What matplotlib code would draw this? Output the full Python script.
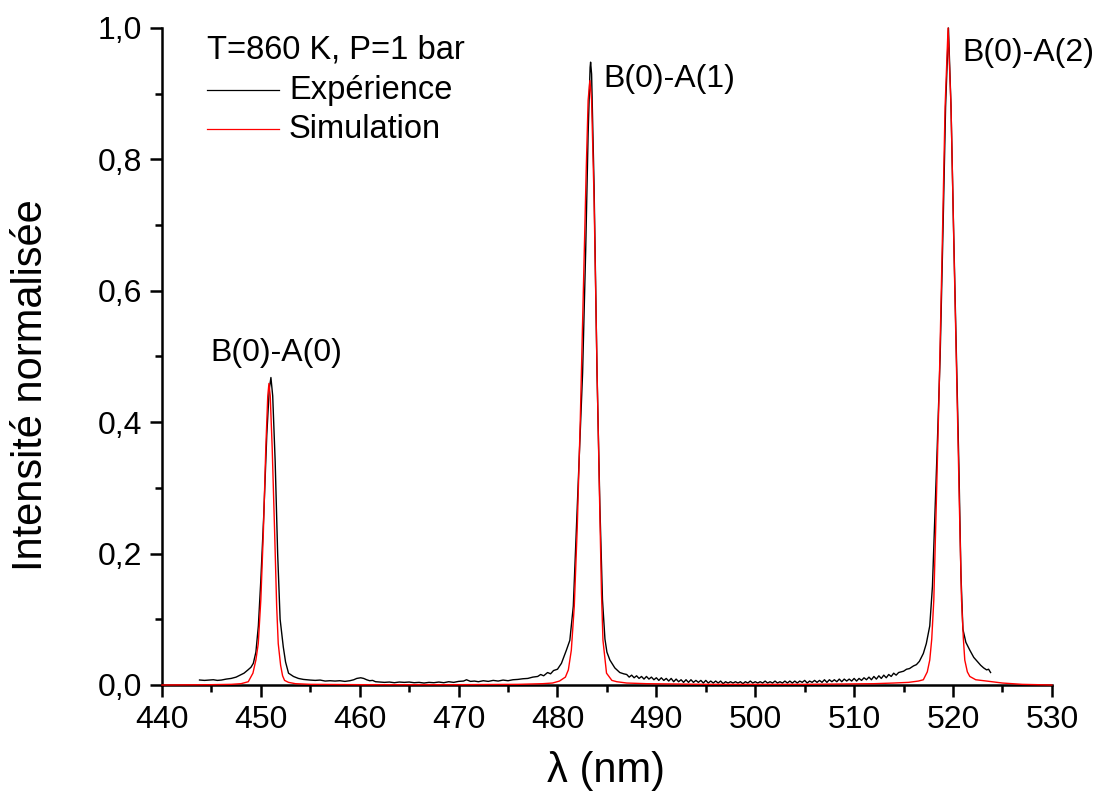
import matplotlib
matplotlib.use("Agg")
import matplotlib.pyplot as plt
from matplotlib.ticker import MultipleLocator

plt.rcParams['font.family'] = ['Liberation Sans', 'DejaVu Sans']

# ---------------- data ----------------
exp_wl = [
    443.8, 444.3, 444.8, 445.2, 445.6, 446.0, 446.5, 447.0, 447.5, 447.9, 448.3, 448.7,
    449.0, 449.24, 449.5, 449.75, 450.0, 450.3, 450.6, 450.85, 451.02, 451.2, 451.45,
    451.7, 451.95, 452.27, 452.5, 452.8, 453.3, 453.8, 454.3, 455.0, 455.5, 456.0,
    456.5, 457.0, 457.5, 458.0, 458.5, 459.0, 459.4, 459.7, 460.1, 460.4, 460.7,
    461.0, 461.3, 461.6, 462.0,
    462.5, 463.0, 463.5, 464.0, 464.5, 465.0, 465.5, 466.0, 466.5, 467.0, 467.5,
    468.0, 468.5, 469.0, 469.5, 470.0, 470.5, 470.8, 471.2, 471.6, 472.0, 472.5,
    473.0, 473.5, 474.0, 474.5, 475.0, 475.5, 476.0, 476.5, 477.0, 477.5, 478.0,
    478.3, 478.6, 479.0, 479.3, 479.6, 480.0, 480.4,
    480.9, 481.25, 481.6, 482.0, 482.3, 482.54, 482.85, 483.1, 483.3, 483.35, 483.45,
    483.7, 484.0, 484.29, 484.55, 484.8, 485.0, 485.3, 485.8, 486.3, 486.7,
    487.0, 487.25, 487.5, 487.75, 488.0, 488.25, 488.5, 488.75,
    489.0, 489.25, 489.5, 489.75, 490.0, 490.25, 490.5, 490.75,
    491.0, 491.25, 491.5, 491.75, 492.0, 492.25, 492.5, 492.75,
    493.0, 493.25, 493.5, 493.75, 494.0, 494.25, 494.5, 494.75,
    495.0, 495.25, 495.5, 495.75, 496.0, 496.25, 496.5, 496.75,
    497.0, 497.25, 497.5, 497.75, 498.0, 498.25, 498.5, 498.75,
    499.0, 499.25, 499.5, 499.75, 500.0, 500.25, 500.5, 500.75,
    501.0, 501.25, 501.5, 501.75, 502.0, 502.25, 502.5, 502.75,
    503.0, 503.25, 503.5, 503.75, 504.0, 504.25, 504.5, 504.75,
    505.0, 505.25, 505.5, 505.75, 506.0, 506.25, 506.5, 506.75,
    507.0, 507.25, 507.5, 507.75, 508.0, 508.25, 508.5, 508.75,
    509.0, 509.25, 509.5, 509.75, 510.0, 510.25, 510.5, 510.75,
    511.0, 511.25, 511.5, 511.75, 512.0, 512.25, 512.5, 512.75,
    513.0, 513.25, 513.5, 513.75, 514.0, 514.25, 514.5,
    515.0, 515.3, 515.6, 516.0, 516.3, 516.6, 517.0, 517.3, 517.65, 517.92, 518.15,
    518.4, 518.7, 519.0, 519.25, 519.54, 519.8, 520.05, 520.35, 520.6, 520.8, 521.0,
    521.3, 521.7, 522.1, 522.5, 522.8, 523.1, 523.4, 523.6, 523.8,
]
exp_int = [
    0.0076, 0.007, 0.0075, 0.008, 0.007, 0.0075, 0.009, 0.010, 0.012, 0.015, 0.018, 0.023,
    0.027, 0.033, 0.05, 0.09, 0.16, 0.26, 0.38, 0.45, 0.468, 0.44, 0.34,
    0.20, 0.10, 0.058, 0.035, 0.018, 0.013, 0.010, 0.0085, 0.0075, 0.007, 0.0075,
    0.006, 0.0065, 0.006, 0.0065, 0.0055, 0.0065, 0.008, 0.010, 0.011, 0.010, 0.008,
    0.0065, 0.007, 0.005, 0.0045,
    0.004, 0.0045, 0.0035, 0.0045, 0.004, 0.0045, 0.0035, 0.004, 0.003, 0.004, 0.0035,
    0.0045, 0.0035, 0.005, 0.004, 0.0055, 0.006, 0.008, 0.0055, 0.006, 0.005, 0.0065,
    0.0055, 0.007, 0.006, 0.0075, 0.0065, 0.008, 0.0085, 0.0095, 0.010, 0.012, 0.013,
    0.016, 0.014, 0.019, 0.017, 0.022, 0.024, 0.033,
    0.053, 0.068, 0.12, 0.27, 0.38, 0.475, 0.66, 0.84, 0.94, 0.948, 0.93,
    0.76, 0.475, 0.271, 0.13, 0.07, 0.05, 0.038, 0.026, 0.019, 0.017,
    0.016, 0.012, 0.015, 0.011, 0.014, 0.010, 0.013, 0.009,
    0.013, 0.009, 0.012, 0.008, 0.011, 0.007, 0.011, 0.007,
    0.010, 0.006, 0.010, 0.005, 0.009, 0.005, 0.008, 0.004,
    0.008, 0.004, 0.008, 0.004, 0.007, 0.004, 0.007, 0.003,
    0.007, 0.003, 0.006, 0.003, 0.006, 0.003, 0.006, 0.002,
    0.005, 0.003, 0.005, 0.003, 0.005, 0.003, 0.005, 0.002,
    0.005, 0.003, 0.006, 0.003, 0.005, 0.003, 0.005, 0.003,
    0.006, 0.003, 0.005, 0.003, 0.006, 0.003, 0.005, 0.003,
    0.006, 0.003, 0.006, 0.003, 0.006, 0.003, 0.006, 0.004,
    0.007, 0.003, 0.006, 0.004, 0.007, 0.004, 0.007, 0.004,
    0.008, 0.004, 0.008, 0.005, 0.008, 0.005, 0.009, 0.005,
    0.009, 0.006, 0.009, 0.006, 0.010, 0.006, 0.010, 0.007,
    0.011, 0.008, 0.012, 0.008, 0.013, 0.009, 0.014, 0.010,
    0.015, 0.011, 0.016, 0.013, 0.018, 0.015, 0.019,
    0.021, 0.024, 0.025, 0.029, 0.031, 0.036, 0.048, 0.063, 0.09, 0.15, 0.25,
    0.36, 0.50, 0.70, 0.88, 1.0, 0.88, 0.70, 0.50, 0.33, 0.17, 0.085,
    0.065, 0.053, 0.042, 0.035, 0.030, 0.026, 0.023, 0.024, 0.019,
]

sim_wl = [
    440.0, 445.0, 447.0, 448.0, 448.73, 449.2, 449.5, 449.74, 450.0, 450.25, 450.5,
    450.7, 450.82, 450.95, 451.15, 451.4, 451.6, 451.76, 452.0, 452.2, 452.4, 452.8,
    453.5, 455.0, 460.0, 470.0, 476.0, 478.5, 479.5, 480.2, 480.8, 481.1, 481.4,
    481.7, 482.0, 482.3, 482.6, 482.9, 483.1, 483.28, 483.45, 483.7, 484.0, 484.3,
    484.45, 484.6, 484.96, 485.5, 486.0, 487.0, 489.0, 495.0, 505.0, 512.0, 514.0,
    515.5, 516.5, 517.0, 517.4, 517.65, 517.85, 518.06, 518.3, 518.6, 518.9, 519.2,
    519.5, 519.8, 520.1, 520.4, 520.65, 520.86, 521.05, 521.19, 521.45, 521.7, 522.3,
    523.4, 525.0, 527.0, 530.0,
]
sim_int = [
    0.0, 0.0005, 0.001, 0.002, 0.005, 0.018, 0.038, 0.063, 0.13, 0.23, 0.36,
    0.44, 0.459, 0.44, 0.36, 0.23, 0.12, 0.063, 0.03, 0.014, 0.007, 0.004,
    0.002, 0.001, 0.0005, 0.0005, 0.001, 0.002, 0.003, 0.006, 0.012, 0.023, 0.053,
    0.12, 0.24, 0.40, 0.59, 0.78, 0.89, 0.92, 0.89, 0.74, 0.48, 0.25,
    0.14, 0.068, 0.018, 0.007, 0.005, 0.003, 0.002, 0.001, 0.001, 0.002, 0.003,
    0.004, 0.006, 0.008, 0.02, 0.038, 0.07, 0.13, 0.27, 0.45, 0.66, 0.88,
    1.0, 0.88, 0.66, 0.45, 0.27, 0.13, 0.07, 0.038, 0.02, 0.013, 0.008,
    0.006, 0.003, 0.001, 0.0,
]

x_ticks = [440, 450, 460, 470, 480, 490, 500, 510, 520, 530]
y_ticks = [0.0, 0.2, 0.4, 0.6, 0.8, 1.0]
y_tick_labels = ["0,0", "0,2", "0,4", "0,6", "0,8", "1,0"]

peak_labels = ["B(0)-A(0)", "B(0)-A(1)", "B(0)-A(2)"]
peak_label_x = [444.9, 484.6, 520.95]
peak_label_y = [0.505, 0.922, 0.962]

legend_title = "T=860 K, P=1 bar"
series_names = ["Expérience", "Simulation"]
series_colors = ["black", "#ff0000"]

# ---------------- figure ----------------
fig = plt.figure(figsize=(10.98, 8.0), dpi=100)
ax = fig.add_axes([0.1475, 0.14375, 0.8105, 0.82125])

ax.plot(exp_wl, exp_int, color=series_colors[0], lw=1.0, zorder=3, clip_on=False)
ax.plot(sim_wl, sim_int, color=series_colors[1], lw=1.0, zorder=4, clip_on=False)

ax.set_xlim(440, 530)
ax.set_ylim(0, 1.0)

ax.set_xticks(x_ticks)
ax.set_xticklabels([str(v) for v in x_ticks])
ax.set_yticks(y_ticks)
ax.set_yticklabels(y_tick_labels)
ax.xaxis.set_minor_locator(MultipleLocator(5))
ax.yaxis.set_minor_locator(MultipleLocator(0.1))

for s in ["top", "right"]:
    ax.spines[s].set_visible(False)
for s in ["left", "bottom"]:
    ax.spines[s].set_linewidth(1.8)

ax.tick_params(which="major", direction="out", length=8.5, width=1.8,
               labelsize=23, pad=6)
ax.tick_params(which="minor", direction="out", length=5, width=1.8)

ax.set_xlabel("λ (nm)", fontsize=30)
ax.xaxis.set_label_coords(0.499, -0.100)
ax.set_ylabel("Intensité normalisée", fontsize=30)
ax.yaxis.set_label_coords(-0.125, 0.456)

for lab, lx, ly in zip(peak_labels, peak_label_x, peak_label_y):
    ax.text(lx, ly, lab, fontsize=23, ha="left", va="center", clip_on=False)

# legend drawn by hand (Origin style)
ax.text(0.0506, 0.9665, legend_title, transform=ax.transAxes, fontsize=23.5,
        ha="left", va="center")
leg_y = [0.9056, 0.846]
for name, col, yy in zip(series_names, series_colors, leg_y):
    ax.plot([0.0506, 0.1315], [yy, yy], transform=ax.transAxes, color=col,
            lw=0.9, clip_on=False)
    ax.text(0.1427, yy, name, transform=ax.transAxes, fontsize=23.5,
            ha="left", va="center")

fig.savefig("out.png", dpi=100)
